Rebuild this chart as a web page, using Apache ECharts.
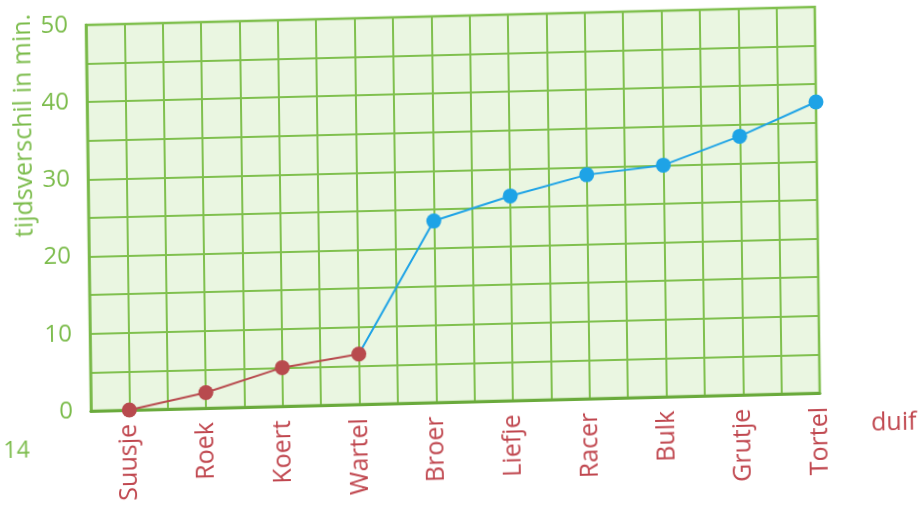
<!DOCTYPE html>
<html>
<head>
<meta charset="utf-8">
<script src="https://cdn.jsdelivr.net/npm/echarts@6/dist/echarts.min.js"></script>
<style>
  html, body { margin: 0; padding: 0; background: #ffffff; overflow: hidden; }
  #chart { width: 918px; height: 506px; transform-origin: 90px 411px; transform: matrix(1, -0.0247, 0.013, 1, 0, 0); }
</style>
</head>
<body>
<div id="chart"></div>
<script>
const categories = ['Suusje', 'Roek', 'Koert', 'Wartel', 'Broer', 'Liefje', 'Racer', 'Bulk', 'Grutje', 'Tortel'];
const redValues = [0, 2, 5, 6.5];
const blueValues = [23.5, 26.5, 29, 30, 33.5, 37.7];
const yTickLabels = [0, 10, 20, 30, 40, 50];
const yTitle = 'tijdsverschil in min.';
const xTitle = 'duif';
const pageNumber = '14';

const FONT = '"Open Sans", "Noto Sans", sans-serif';
const GREEN_TXT = '#7cbc4c';
const RED_TXT = '#c0474f';
const GRID = '#80c04e';

const redData = redValues.map((v, i) => [i, v]);
const blueStart = redValues.length - 1;
const blueData = [[blueStart, redValues[blueStart]]].concat(blueValues.map((v, i) => [redValues.length + i, v]));

const chart = echarts.init(document.getElementById('chart'), null, { renderer: 'canvas' });
chart.setOption({
  animation: false,
  backgroundColor: 'transparent',
  grid: {
    left: 91, right: 98, top: 25, bottom: 95,
    show: true, backgroundColor: '#eaf6e1', borderColor: '#78b848', borderWidth: 2.5
  },
  xAxis: {
    type: 'value', min: -0.5, max: categories.length - 1, interval: 0.5,
    axisLine: { show: true, onZero: false, lineStyle: { color: '#6aaa3c', width: 3 } },
    axisTick: { show: false },
    splitLine: { show: true, lineStyle: { color: GRID, width: 2 } },
    axisLabel: {
      show: true, rotate: 90, margin: 14, showMinLabel: true, showMaxLabel: true,
      color: RED_TXT, fontSize: 25, fontFamily: FONT,
      formatter: v => (Number.isInteger(v) && v >= 0 ? categories[v] : '')
    }
  },
  yAxis: {
    type: 'value', min: 0, max: 50, interval: 5,
    axisLine: { show: true, onZero: false, lineStyle: { color: '#78b848', width: 2.5 } },
    axisTick: { show: false },
    splitLine: { show: true, lineStyle: { color: GRID, width: 2 } },
    axisLabel: {
      show: true, margin: 18, color: GREEN_TXT, fontSize: 24, fontFamily: FONT,
      padding: [0, 0, 6, 0],
      formatter: v => (yTickLabels.indexOf(v) >= 0 ? String(v) : '')
    }
  },
  graphic: [
    { type: 'text', x: 28, y: 124, rotation: Math.PI / 2,
      style: { text: yTitle, fill: GREEN_TXT, font: '25px ' + FONT, textAlign: 'center', textVerticalAlign: 'middle', align: 'center', verticalAlign: 'middle' } },
    { type: 'text', x: 871, y: 443,
      style: { text: xTitle, fill: RED_TXT, font: '25px ' + FONT, textAlign: 'left', textVerticalAlign: 'middle', align: 'left', verticalAlign: 'middle' } },
    { type: 'text', x: 3, y: 449,
      style: { text: pageNumber, fill: GREEN_TXT, font: '23px ' + FONT, textAlign: 'left', textVerticalAlign: 'middle', align: 'left', verticalAlign: 'middle' } }
  ],
  series: [
    {
      type: 'line', data: blueData, z: 3,
      lineStyle: { color: '#1ea3e6', width: 2 },
      itemStyle: { color: '#1ea3e6' },
      symbol: 'circle',
      symbolSize: (val, p) => (p.dataIndex === 0 ? 0 : 15)
    },
    {
      type: 'line', data: redData, z: 4,
      lineStyle: { color: '#b84a4e', width: 2 },
      itemStyle: { color: '#b84a4e' },
      symbol: 'circle', symbolSize: 15
    }
  ]
});
</script>
</body>
</html>
